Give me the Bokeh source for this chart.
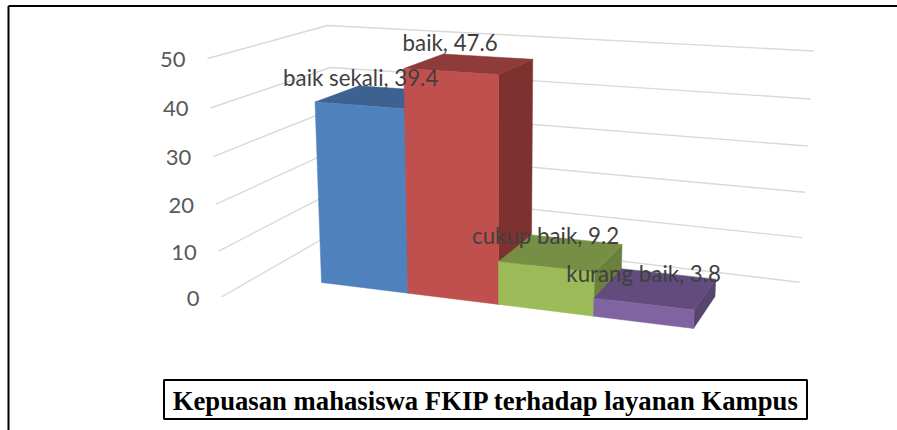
from bokeh.plotting import figure
from bokeh.models import Range1d, ColumnDataSource
from bokeh.core.properties import value
from bokeh.embed import file_html
from bokeh.resources import INLINE

# ---- data ----
categories = ["baik sekali", "baik", "cukup baik", "kurang baik"]
values = [39.4, 47.6, 9.2, 3.8]
ticks = [0, 10, 20, 30, 40, 50]
title_text = "Kepuasan mahasiswa FKIP terhadap layanan Kampus"
front_colors = ["#4F81BD", "#C0504D", "#9BBB59", "#8064A2"]
top_colors = ["#3D6291", "#8E3B39", "#778E45", "#614C7D"]
side_colors = ["#345379", "#7E3230", "#6B803E", "#57446F"]

W, H = 897, 430

# ---- projection of the 3D chart (pixel anchors of the perspective) ----
YMAX = ticks[-1]
NCAT = len(categories)
O = (321.0, 282.0)
PX, WX = (693.0, 328.0), 0.9077
PY, WY = (312.7, 50.7), 0.955
PZ, WZ = (363.0, 255.5), 1.064
label_dx = [-20, -19.5, -16, -12.5]
label_dy = [-19, -21, -17, -15]


def project(cat, val, depth):
    a, b, c = cat / NCAT, val / YMAX, depth
    w = 1 + a * (WX - 1) + b * (WY - 1) + c * (WZ - 1)
    out = []
    for i in (0, 1):
        n = O[i] + a * (WX * PX[i] - O[i]) + b * (WY * PY[i] - O[i]) + c * (WZ * PZ[i] - O[i])
        out.append(n / w)
    return out[0], out[1]


# walls: column anchors (value 0 point, value 50 point)
wall_columns = [((221.0, 296.5), (207.0, 58.0)),
                ((341.0, 227.5), (327.0, 25.0)),
                ((799.0, 281.7), (813.0, 50.5))]


def wall_point(col, val):
    p0, p1 = wall_columns[col]
    t = val / YMAX
    w = 1 + t * (WY - 1)
    return tuple((p0[i] + t * (WY * p1[i] - p0[i])) / w for i in (0, 1))


p = figure(width=W, height=H, output_backend="svg", toolbar_location=None,
           x_range=Range1d(0, W), y_range=Range1d(H, 0),
           min_border=0, outline_line_color=None, margin=(0, 0, 0, 0))
p.xaxis.visible = False
p.yaxis.visible = False
p.grid.visible = False
p.background_fill_color = "white"
p.border_fill_color = "white"

# outer frame
p.line([8, 8], [430, 5.5], line_color="black", line_width=2)
p.line([8, 897], [5.5, 5.5], line_color="black", line_width=2)

# gridlines
for t in ticks:
    pts = [wall_point(c, t) for c in range(3)]
    p.line([q[0] for q in pts], [q[1] for q in pts], line_color="#D9D9D9", line_width=1.4)

# tick labels
p.text([wall_point(0, t)[0] - 22 for t in ticks], [wall_point(0, t)[1] + 1 for t in ticks],
       text=[str(t) for t in ticks], text_align="right", text_baseline="middle",
       text_font=value("Lato"), text_font_size="22px", text_color="#595959")

# bars
xs, ys, fills = [], [], []
for i, v in enumerate(values):
    faces = [
        ([(i + 1, 0, 0), (i + 1, v, 0), (i + 1, v, 1), (i + 1, 0, 1)], side_colors[i]),
        ([(i, v, 0), (i + 1, v, 0), (i + 1, v, 1), (i, v, 1)], top_colors[i]),
        ([(i, 0, 0), (i + 1, 0, 0), (i + 1, v, 0), (i, v, 0)], front_colors[i]),
    ]
    for corners, col in faces:
        pts = [project(*c) for c in corners]
        xs.append([q[0] for q in pts])
        ys.append([q[1] for q in pts])
        fills.append(col)
p.patches("xs", "ys", fill_color="fills", line_color="fills", line_width=0.5,
          source=ColumnDataSource(dict(xs=xs, ys=ys, fills=fills)))

# data labels
lx, ly, lt = [], [], []
for i, (c, v) in enumerate(zip(categories, values)):
    x, y = project(i + 0.5, v, 0.5)
    lx.append(x + label_dx[i])
    ly.append(y + label_dy[i])
    lt.append(f"{c}, {v}")
p.text(lx, ly, text=lt, text_align="center", text_baseline="middle",
       text_font=value("Lato"), text_font_size="22.3px", text_color="#404040")

# title box
p.quad(left=[163.5], right=[806.5], top=[379.5], bottom=[418.5], fill_color="white",
       line_color="black", line_width=2)
p.text([485.5], [400], text=[title_text], text_align="center", text_baseline="middle",
       text_font=value("Liberation Serif"), text_font_style="bold", text_font_size="26.7px",
       text_color="black")

open("out.html", "w").write(file_html(p, INLINE))
